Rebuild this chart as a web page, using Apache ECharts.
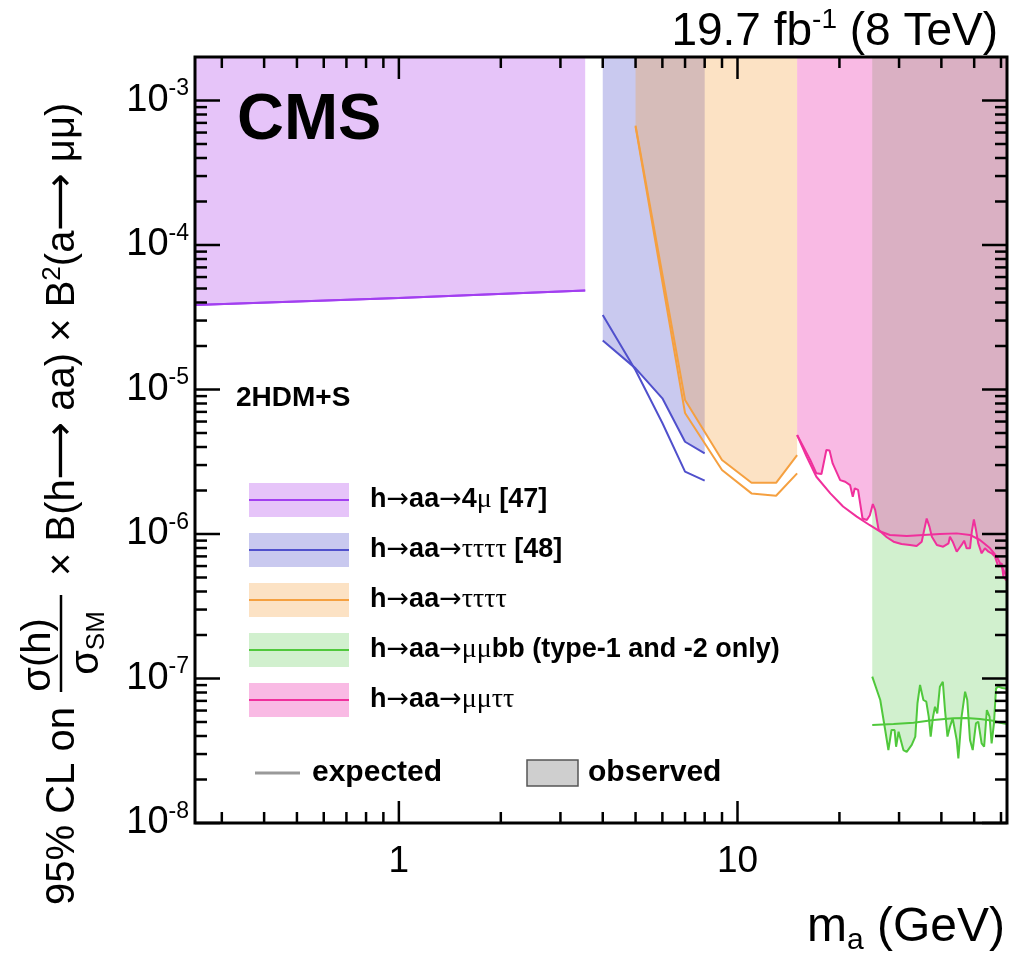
<!DOCTYPE html>
<html>
<head>
<meta charset="utf-8">
<script src="https://cdn.jsdelivr.net/npm/echarts@6/dist/echarts.min.js"></script>
<style>
html,body{margin:0;padding:0;background:#fff;}
#chart{width:1028px;height:956px;}
</style>
</head>
<body>
<div id="chart"></div>
<script>
// ---------- data ----------
// h->aa->4mu [47]
const mass4mu = [0.25, 1, 3.55];
const obs4mu  = [3.85e-5, 4.3e-5, 4.85e-5];
const exp4mu  = [3.85e-5, 4.3e-5, 4.85e-5];
// h->aa->tautautautau [48]
const massTau48 = [4, 5, 6, 7, 8];
const obsTau48  = [2.18e-5, 1.40e-5, 8.69e-6, 4.35e-6, 3.62e-6];
const expTau48  = [3.28e-5, 1.36e-5, 5.86e-6, 2.70e-6, 2.34e-6];
// h->aa->tautautautau (this analysis)
const massTau = [5, 7, 9, 11, 13, 15];
const obsTau  = [6.7e-4, 8.46e-6, 3.25e-6, 2.26e-6, 2.26e-6, 3.52e-6];
const expTau  = [6.6e-4, 6.88e-6, 2.77e-6, 1.91e-6, 1.84e-6, 2.63e-6];
// h->aa->mumubb
const massBbObs = [25, 26.4, 27.3, 27.9, 28.5, 29.1, 29.4, 29.9, 30.3, 30.9, 31.6, 32.7, 33.5, 34.0, 34.6, 35.4, 36.1, 36.7, 37.2, 37.8, 38.3, 38.9, 39.6, 40.4, 41.0, 41.7, 42.4, 43.2, 44.4, 44.9, 45.9, 47.0, 47.7, 48.6, 49.5, 50.6, 51.4, 52.6, 53.5, 54.5, 55.5, 56.3, 57.2, 58.0, 58.9, 60.5, 62.5];
const obsBb = [1.03e-7, 7.1e-8, 4.4e-8, 3.2e-8, 4.4e-8, 4.4e-8, 3.37e-8, 4.28e-8, 4.18e-8, 3.2e-8, 3.11e-8, 3.47e-8, 3.96e-8, 6.74e-8, 9.02e-8, 7.1e-8, 6.91e-8, 5.44e-8, 3.96e-8, 5.44e-8, 6.38e-8, 5.74e-8, 8.78e-8, 9.5e-8, 6.05e-8, 3.96e-8, 4.64e-8, 5.3e-8, 3.75e-8, 2.8e-8, 5.44e-8, 8.1e-8, 7.1e-8, 3.75e-8, 3.2e-8, 4.9e-8, 5.02e-8, 3.56e-8, 3.37e-8, 6.05e-8, 5.44e-8, 3.56e-8, 4.9e-8, 8.55e-8, 8.78e-8, 8.6e-8, 8.5e-8];
const massBbExp = [25, 28.9, 33.1, 37.9, 43.4, 47.5, 52.0, 56.9, 59.6, 62.5];
const expBb = [4.77e-8, 4.84e-8, 4.94e-8, 5.16e-8, 5.30e-8, 5.33e-8, 5.25e-8, 5.1e-8, 4.94e-8, 4.85e-8];
// h->aa->mumutautau
const massMtObs = [15, 16.4, 17.1, 17.7, 18.3, 18.7, 19.1, 20.1, 20.8, 21.5, 21.9, 22.2, 22.7, 23.4, 24.1, 24.6, 25.1, 25.5, 26.1, 27.6, 28.9, 30.5, 32.3, 33.8, 35.0, 35.6, 36.2, 36.9, 37.5, 38.8, 40.5, 42.0, 42.4, 43.2, 44.4, 45.9, 46.7, 47.5, 48.6, 49.2, 49.9, 50.6, 51.4, 52.6, 53.8, 55.1, 56.3, 57.6, 58.9, 60.3, 61.0, 62.1, 62.5];
const obsMt = [4.84e-6, 3.25e-6, 2.63e-6, 2.60e-6, 3.81e-6, 3.78e-6, 3.08e-6, 2.36e-6, 2.30e-6, 2.18e-6, 1.81e-6, 2.07e-6, 2.02e-6, 1.28e-6, 1.25e-6, 1.35e-6, 1.61e-6, 1.47e-6, 1.07e-6, 9.49e-7, 8.85e-7, 8.53e-7, 8.4e-7, 8.26e-7, 8.85e-7, 1.07e-6, 1.28e-6, 1.12e-6, 9.58e-7, 8.4e-7, 8.17e-7, 8.62e-7, 9.58e-7, 8.85e-7, 7.54e-7, 8.4e-7, 8.99e-7, 7.96e-7, 7.96e-7, 1.04e-6, 1.26e-6, 1.07e-6, 8.62e-7, 7.35e-7, 7.96e-7, 7.54e-7, 7.35e-7, 6.97e-7, 5.94e-7, 6.27e-7, 5.06e-7, 4.8e-7, 6.0e-7];
const massMtExp = [15, 16.0, 17.1, 18.8, 20.5, 22.5, 24.6, 26.4, 28.2, 31.6, 35.4, 39.6, 44.4, 48.6, 52.0, 55.7, 58.3, 60.3, 62.4];
const expMt = [4.84e-6, 3.43e-6, 2.49e-6, 1.91e-6, 1.55e-6, 1.32e-6, 1.15e-6, 1.04e-6, 9.85e-7, 9.7e-7, 9.85e-7, 1.0e-6, 1.01e-6, 9.85e-7, 9.09e-7, 7.96e-7, 6.97e-7, 5.94e-7, 5.06e-7];

// axes / ticks
const xRange = [0.25, 62.5];
const yRange = [1e-8, 2e-3];
const xMajorTicks = [1, 10];
const xMajorLabels = ['1', '10'];
const xMinorTicks = [0.3, 0.4, 0.5, 0.6, 0.7, 0.8, 0.9, 2, 3, 4, 5, 6, 7, 8, 9, 20, 30, 40, 50, 60];
const yMajorTicks = [1e-8, 1e-7, 1e-6, 1e-5, 1e-4, 1e-3];
const yMinorMantissas = [2, 3, 4, 5, 6, 7, 8, 9];

// legend entries
const legendNames = [
  '{b|h}{a|→}{b|aa}{a|→}{b|4}{g|μ}{b| [47]}',
  '{b|h}{a|→}{b|aa}{a|→}{g|ττττ}{b| [48]}',
  '{b|h}{a|→}{b|aa}{a|→}{g|ττττ}',
  '{b|h}{a|→}{b|aa}{a|→}{g|μμ}{b|bb (type-1 and -2 only)}',
  '{b|h}{a|→}{b|aa}{a|→}{g|μμττ}'
];

// ---------- styles ----------
const FONT = "'Liberation Sans', Arial, Helvetica, sans-serif";
const GREEK = "'Liberation Serif', 'DejaVu Serif', serif";
const ARROW = "'DejaVu Sans', sans-serif";
const lineColors = ['#a23ff0', '#5050cc', '#f5a040', '#50c83c', '#f0309c'];
const fillColors = ['rgba(190,100,240,0.38)', 'rgba(100,100,210,0.35)', 'rgba(245,160,60,0.30)',
                    'rgba(90,200,80,0.28)', 'rgba(236,40,170,0.32)'];

const yMinorTicks = [];
yMajorTicks.slice(0, 5).forEach(d => yMinorMantissas.forEach(m => yMinorTicks.push(m * d)));

function pairs(xs, ys) { return xs.map((x, i) => [x, ys[i]]); }

function band(xs, ys, k) {
  return {
    type: 'line', data: pairs(xs, ys), symbol: 'none', showSymbol: false, silent: true,
    lineStyle: { color: lineColors[k], width: 2 },
    areaStyle: { color: fillColors[k], origin: 'end', opacity: 1 },
    z: 2 + k * 0.01, animation: false
  };
}
function expLine(xs, ys, k) {
  return {
    type: 'line', data: pairs(xs, ys), symbol: 'none', showSymbol: false, silent: true,
    lineStyle: { color: lineColors[k], width: 2 }, z: 3, animation: false
  };
}

const yMid = 1e-5, xMid = 1;
const xTickData = xMajorTicks.map(v => [v, yMid, 22]).concat(xMinorTicks.map(v => [v, yMid, 11]));
const yTickData = yMajorTicks.map(v => [xMid, v, 25]).concat(yMinorTicks.map(v => [xMid, v, 12]));

function xTickRender(params, api) {
  const cs = params.coordSys;
  const p = api.coord([api.value(0), api.value(1)]);
  const len = api.value(2);
  const bottom = cs.y + cs.height, top = cs.y;
  const st = { stroke: '#000', lineWidth: 2.5 };
  const children = [
    { type: 'line', shape: { x1: p[0], y1: bottom, x2: p[0], y2: bottom - len }, style: st },
    { type: 'line', shape: { x1: p[0], y1: top, x2: p[0], y2: top + len }, style: st }
  ];
  if (params.dataIndex === 0) {
    children.push({ type: 'rect', shape: { x: cs.x, y: cs.y, width: cs.width, height: cs.height },
      style: { fill: 'none', stroke: '#000', lineWidth: 3 } });
  }
  return { type: 'group', children };
}
function yTickRender(params, api) {
  const cs = params.coordSys;
  const p = api.coord([api.value(0), api.value(1)]);
  const len = api.value(2);
  const left = cs.x, right = cs.x + cs.width;
  const st = { stroke: '#000', lineWidth: 2.5 };
  return { type: 'group', children: [
    { type: 'line', shape: { x1: left, y1: p[1], x2: left + len, y2: p[1] }, style: st },
    { type: 'line', shape: { x1: right, y1: p[1], x2: right - len, y2: p[1] }, style: st }
  ] };
}

// ---------- legend graphics ----------
const legendRowsY = [500, 550, 600, 650, 700];
const legendGraphics = [];
legendRowsY.forEach((y, k) => {
  legendGraphics.push({ type: 'rect', shape: { x: 249, y: y - 17, width: 100, height: 34 },
    style: { fill: fillColors[k] }, z: 20 });
  legendGraphics.push({ type: 'line', shape: { x1: 249, y1: y, x2: 349, y2: y },
    style: { stroke: lineColors[k], lineWidth: 2 }, z: 21 });
  legendGraphics.push({ type: 'text', x: 370, y: y, z: 21,
    style: { text: legendNames[k], align: 'left', verticalAlign: 'middle', textAlign: 'left', textVerticalAlign: 'middle',
      rich: { b: { fontSize: 27, fontWeight: 'bold', fontFamily: FONT, fill: '#000' },
              a: { fontSize: 27, fontFamily: ARROW, fill: '#000' },
              g: { fontSize: 28, fontFamily: GREEK, fill: '#000' } } } });
});
legendGraphics.push({ type: 'line', shape: { x1: 255, y1: 773, x2: 300, y2: 773 },
  style: { stroke: '#999', lineWidth: 3 }, z: 21 });
legendGraphics.push({ type: 'text', x: 312, y: 773, z: 21,
  style: { text: 'expected', font: 'bold 30px ' + FONT, fill: '#000', align: 'left', verticalAlign: 'middle', textAlign: 'left', textVerticalAlign: 'middle' } });
legendGraphics.push({ type: 'rect', shape: { x: 527, y: 760, width: 51, height: 26 },
  style: { fill: '#cfcfcf', stroke: '#555', lineWidth: 1.5 }, z: 21 });
legendGraphics.push({ type: 'text', x: 588, y: 773, z: 21,
  style: { text: 'observed', font: 'bold 30px ' + FONT, fill: '#000', align: 'left', verticalAlign: 'middle', textAlign: 'left', textVerticalAlign: 'middle' } });

const titleRich = {
  t: { fontSize: 40, fontFamily: FONT, fill: '#000', lineHeight: 46 },
  a: { fontSize: 40, fontFamily: ARROW, fill: '#000', lineHeight: 46 },
  sub: { fontSize: 26, fontFamily: FONT, fill: '#000', verticalAlign: 'bottom', lineHeight: 26 },
  sup: { fontSize: 26, fontFamily: FONT, fill: '#000', verticalAlign: 'top', lineHeight: 26 }
};

const otherGraphics = [
  { type: 'text', x: 237, y: 121, z: 22,
    style: { text: 'CMS', font: 'bold 65px ' + FONT, fill: '#000', verticalAlign: 'middle', textVerticalAlign: 'middle' } },
  { type: 'text', x: 236, y: 398, z: 22,
    style: { text: '2HDM+S', font: 'bold 28px ' + FONT, fill: '#000', verticalAlign: 'middle', textVerticalAlign: 'middle' } },
  { type: 'text', x: 998, y: 32, z: 22,
    style: { text: '{t|19.7 fb}{sup|-1}{t| (8 TeV)}', align: 'right', textAlign: 'right', verticalAlign: 'middle', textVerticalAlign: 'middle',
      rich: { t: { fontSize: 46, fontFamily: FONT, fill: '#000', lineHeight: 52 },
              sup: { fontSize: 28, fontFamily: FONT, fill: '#000', verticalAlign: 'top', lineHeight: 28 } } } },
  { type: 'text', x: 1005, y: 928, z: 22,
    style: { text: '{t|m}{sub|a}{t| (GeV)}', align: 'right', textAlign: 'right', verticalAlign: 'middle', textVerticalAlign: 'middle',
      rich: { t: { fontSize: 48, fontFamily: FONT, fill: '#000', lineHeight: 56 },
              sub: { fontSize: 30, fontFamily: FONT, fill: '#000', verticalAlign: 'bottom', lineHeight: 30 } } } },
  { type: 'group', x: 63, y: 905, rotation: Math.PI / 2, z: 22, children: [
    { type: 'text', x: 0, y: 0, style: { text: '95% CL on', font: '40px ' + FONT, fill: '#000', verticalAlign: 'middle', textVerticalAlign: 'middle' } },
    { type: 'text', x: 250, y: -24, style: { text: 'σ(h)', font: '40px ' + FONT, fill: '#000', align: 'center', textAlign: 'center', verticalAlign: 'middle', textVerticalAlign: 'middle' } },
    { type: 'line', shape: { x1: 213, y1: -2, x2: 310, y2: -2 }, style: { stroke: '#000', lineWidth: 2.5 } },
    { type: 'text', x: 262, y: 24, style: { text: '{t|σ}{sub|SM}', rich: titleRich, align: 'center', textAlign: 'center', verticalAlign: 'middle', textVerticalAlign: 'middle' } },
    { type: 'text', x: 318, y: 0, style: { text: '{t| × B(h}{a|⟶}{t| aa) × B}{sup|2}{t|(a}{a|⟶}{t| μμ)}', rich: titleRich, verticalAlign: 'middle', textVerticalAlign: 'middle' } }
  ] }
];

// ---------- chart ----------
const chart = echarts.init(document.getElementById('chart'), null, { renderer: 'canvas' });
chart.setOption({
  backgroundColor: '#fff',
  animation: false,
  grid: { left: 195, top: 57, width: 812, height: 766, show: false },
  xAxis: {
    type: 'log', logBase: 10, min: xRange[0], max: xRange[1],
    axisLine: { show: false }, axisTick: { show: false }, splitLine: { show: false },
    axisLabel: {
      margin: 20, fontSize: 37, fontFamily: FONT, color: '#000', showMinLabel: true, showMaxLabel: true,
      formatter: v => { const i = xMajorTicks.findIndex(t => Math.abs(v - t) < 1e-6 * t); return i >= 0 ? xMajorLabels[i] : ''; }
    }
  },
  yAxis: {
    type: 'log', logBase: 10, min: yRange[0], max: yRange[1],
    axisLine: { show: false }, axisTick: { show: false }, splitLine: { show: false },
    axisLabel: {
      margin: 6, fontFamily: FONT, color: '#000',
      formatter: v => {
        const e = Math.round(Math.log10(v));
        if (Math.abs(v / Math.pow(10, e) - 1) > 1e-6) return '';
        return '{b|10}{s|' + e + '}';
      },
      rich: {
        b: { fontSize: 38, fontFamily: FONT, color: '#000', lineHeight: 46 },
        s: { fontSize: 23, fontFamily: FONT, color: '#000', verticalAlign: 'top', lineHeight: 23 }
      }
    }
  },
  series: [
    band(mass4mu, obs4mu, 0),
    band(massTau48, obsTau48, 1),
    band(massTau, obsTau, 2),
    band(massBbObs, obsBb, 3),
    band(massMtObs, obsMt, 4),
    expLine(mass4mu, exp4mu, 0),
    expLine(massTau48, expTau48, 1),
    expLine(massTau, expTau, 2),
    expLine(massBbExp, expBb, 3),
    expLine(massMtExp, expMt, 4),
    { type: 'custom', data: xTickData, renderItem: xTickRender, z: 10, silent: true, animation: false,
      encode: { x: 0, y: 1 } },
    { type: 'custom', data: yTickData, renderItem: yTickRender, z: 10, silent: true, animation: false,
      encode: { x: 0, y: 1 } }
  ],
  graphic: legendGraphics.concat(otherGraphics)
});
</script>
</body>
</html>
